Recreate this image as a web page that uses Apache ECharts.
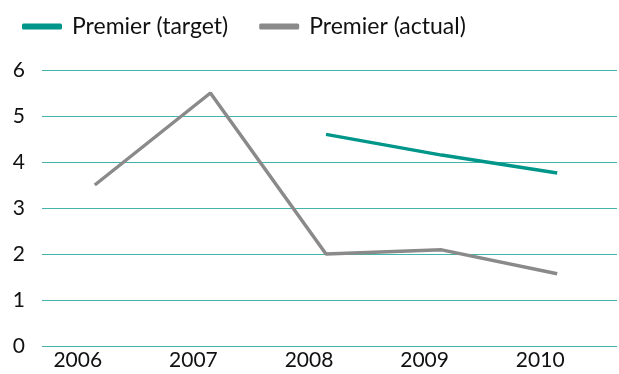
<!DOCTYPE html>
<html>
<head>
<meta charset="utf-8">
<script src="https://cdn.jsdelivr.net/npm/echarts@6/dist/echarts.min.js"></script>
<style>
  html, body { margin: 0; padding: 0; background: #fff; }
  #chart { width: 619px; height: 374px; }
</style>
</head>
<body>
<div id="chart"></div>
<script>
// Years on the category axis
const years = ['2006', '2007', '2008', '2009', '2010'];
// Target values start in 2008
const targetValues = [null, null, 4.6, 4.15, 3.76];
// Actual values for every year
const actualValues = [3.5, 5.5, 2.0, 2.09, 1.57];
// Value axis ticks
const yTicks = [0, 1, 2, 3, 4, 5, 6];

const FONT = 'Lato, "Noto Sans", sans-serif';
const TEAL = '#00968a';
const GREY = '#8a8a8a';
const yMin = yTicks[0];
const yMax = yTicks[yTicks.length - 1];

const chart = echarts.init(document.getElementById('chart'), null, { renderer: 'canvas' });

chart.setOption({
  animation: false,
  legend: {
    left: 17,
    top: 10,
    itemWidth: 40,
    itemHeight: 6,
    itemGap: 31,
    icon: 'roundRect',
    textStyle: { fontFamily: FONT, fontSize: 23, color: '#111', padding: [0, 0, 0, 5] },
    data: ['Premier (target)', 'Premier (actual)']
  },
  // grid 0 carries the horizontal rules and value labels,
  // grid 1 carries the lines and year labels
  grid: [
    { left: 42, right: 2, top: 70, bottom: 28 },
    { left: 37, right: 4, top: 70, bottom: 28 }
  ],
  xAxis: [
    {
      gridIndex: 0,
      type: 'category',
      data: years,
      show: false
    },
    {
      gridIndex: 1,
      type: 'category',
      data: years,
      boundaryGap: true,
      axisLine: { show: false },
      axisTick: { show: false },
      axisLabel: {
        fontFamily: FONT, fontSize: 21, color: '#111', margin: 4,
        padding: [0, 34, 0, 0]
      }
    }
  ],
  yAxis: [
    {
      gridIndex: 0,
      type: 'value',
      min: yMin,
      max: yMax,
      interval: 1,
      axisLine: { show: false },
      axisTick: { show: false },
      axisLabel: { fontFamily: FONT, fontSize: 21, color: '#111', margin: 17 },
      splitLine: { lineStyle: { color: '#45b3a9', width: 1.2 } }
    },
    {
      gridIndex: 1,
      type: 'value',
      min: yMin,
      max: yMax,
      interval: 1,
      show: false,
      splitLine: { show: false }
    }
  ],
  series: [
    {
      name: 'Premier (target)',
      type: 'line',
      xAxisIndex: 1,
      yAxisIndex: 1,
      data: targetValues,
      symbol: 'none',
      connectNulls: false,
      itemStyle: { color: TEAL },
      lineStyle: { color: TEAL, width: 3.5 }
    },
    {
      name: 'Premier (actual)',
      type: 'line',
      xAxisIndex: 1,
      yAxisIndex: 1,
      data: actualValues,
      symbol: 'none',
      itemStyle: { color: GREY },
      lineStyle: { color: GREY, width: 3.5 }
    }
  ]
});
</script>
</body>
</html>
